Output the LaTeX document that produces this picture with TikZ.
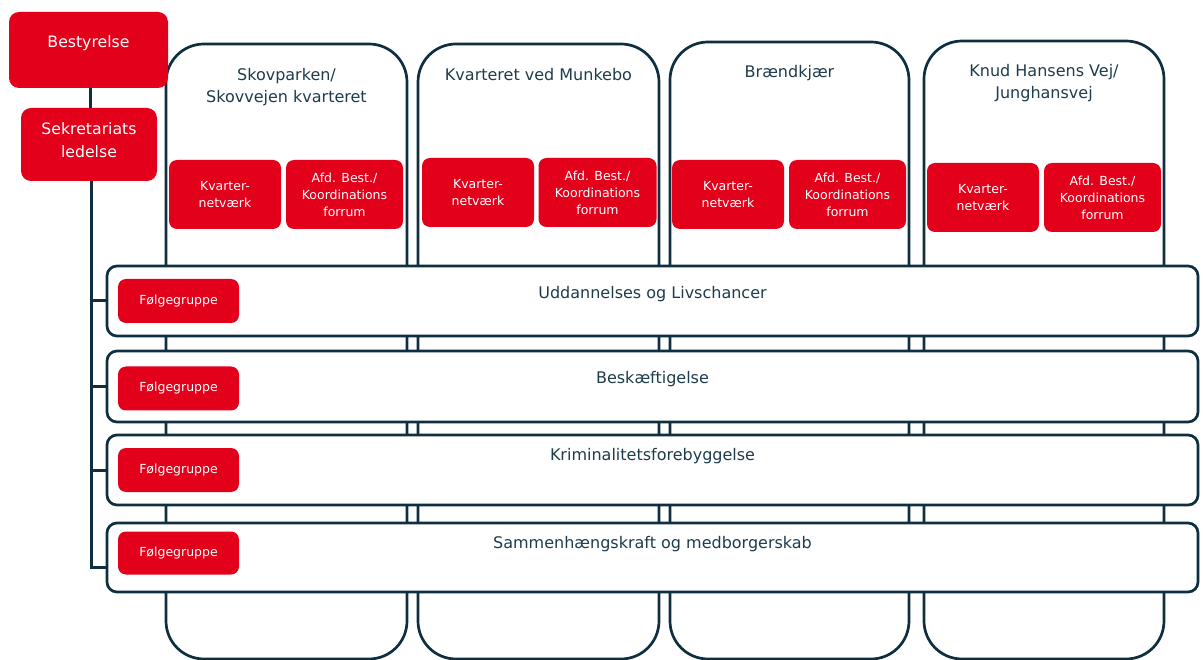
\documentclass[tikz,border=0pt]{standalone}
\usepackage{fontspec}
\setmainfont{DejaVu Sans}
\definecolor{redbox}{HTML}{E2001A}
\definecolor{navyline}{HTML}{0E2F3F}
\definecolor{titletext}{HTML}{1E3C4C}
\begin{document}
\begin{tikzpicture}[x=1pt,y=-1pt,
  redbox/.style={fill=redbox,draw=none,rounded corners=8pt,inner sep=0pt,text=white,align=center,font=\fontsize{12.5}{17}\selectfont},
  bigred/.style={redbox,rounded corners=10pt,font=\fontsize{15.7}{23.5}\selectfont},
  column/.style={draw=navyline,line width=2.7pt,fill=white,rounded corners=38pt,inner sep=0pt},
  rowbox/.style={draw=navyline,line width=2.7pt,fill=white,rounded corners=10pt,inner sep=0pt,minimum width=1091pt},
  coltitle/.style={text=titletext,align=center,anchor=north,inner sep=0pt,font=\fontsize{16}{22}\selectfont},
  rowtitle/.style={text=titletext,inner sep=0pt,font=\fontsize{16}{22}\selectfont},
  trunkline/.style={draw=navyline,line width=3pt}
]
\useasboundingbox (0,0) rectangle (1203,660);
% columns
\node[column,minimum width=241pt,minimum height=615pt] (c1) at (286.5,351.5) {};
\node[column,minimum width=241pt,minimum height=615pt] (c2) at (538.5,351.5) {};
\node[column,minimum width=239pt,minimum height=617pt] (c3) at (789.5,350.5) {};
\node[column,minimum width=240pt,minimum height=618pt] (c4) at (1044,350) {};
% column titles
\node[coltitle] (t1) at (286.5,68) {Skovparken/\\Skovvejen kvarteret};
\node[coltitle] (t2) at (538.5,68) {Kvarteret ved Munkebo};
\node[coltitle] (t3) at (789.5,65) {Brændkjær};
\node[coltitle] (t4) at (1044,64) {Knud Hansens Vej/\\Junghansvej};
% column red boxes
\node[redbox,minimum width=112pt,minimum height=69pt] (k1) at (225,194.5) {Kvarter-\\netværk};
\node[redbox,minimum width=117pt,minimum height=69pt] (a1) at (344.5,194.5) {Afd. Best./\\Koordinations\\forrum};
\node[redbox,minimum width=112pt,minimum height=69pt] (k2) at (478,192.5) {Kvarter-\\netværk};
\node[redbox,minimum width=118pt,minimum height=69pt] (a2) at (597.5,192.5) {Afd. Best./\\Koordinations\\forrum};
\node[redbox,minimum width=112pt,minimum height=69pt] (k3) at (728,194.5) {Kvarter-\\netværk};
\node[redbox,minimum width=117pt,minimum height=69pt] (a3) at (847.5,194.5) {Afd. Best./\\Koordinations\\forrum};
\node[redbox,minimum width=112pt,minimum height=69pt] (k4) at (983,197.5) {Kvarter-\\netværk};
\node[redbox,minimum width=117pt,minimum height=69pt] (a4) at (1102.5,197.5) {Afd. Best./\\Koordinations\\forrum};
% rows
\node[rowbox,minimum height=70pt] (r1) at (652.5,301) {};
\node[rowbox,minimum height=71pt] (r2) at (652.5,386.5) {};
\node[rowbox,minimum height=70pt] (r3) at (652.5,470) {};
\node[rowbox,minimum height=69pt] (r4) at (652.5,557.5) {};
\node[rowtitle] (l1) at (652.5,294) {Uddannelses og Livschancer};
\node[rowtitle] (l2) at (652.5,379) {Beskæftigelse};
\node[rowtitle] (l3) at (652.5,456) {Kriminalitetsforebyggelse};
\node[rowtitle] (l4) at (652.5,544) {Sammenhængskraft og medborgerskab};
\node[redbox,minimum width=121pt,minimum height=44pt] (f1) at (178.5,301) {Følgegruppe};
\node[redbox,minimum width=121pt,minimum height=44pt] (f2) at (178.5,388.5) {Følgegruppe};
\node[redbox,minimum width=121pt,minimum height=44pt] (f3) at (178.5,470) {Følgegruppe};
\node[redbox,minimum width=121pt,minimum height=43pt] (f4) at (178.5,553) {Følgegruppe};
% management
\node[bigred,minimum width=159pt,minimum height=76pt] (best) at (88.5,50) {};
\node[bigred,inner sep=0pt] (bestt) at (88.5,43) {Bestyrelse};
\node[bigred,minimum width=136pt,minimum height=73pt] (sek) at (89,144.5) {};
\node[bigred,inner sep=0pt] (sekt) at (89,140) {Sekretariats\\ledelse};
% connectors
\coordinate (trunk) at (91,567);
\draw[trunkline] (best.south -| 90,0) -- (sek.north -| 90,0);
\draw[trunkline] (sek.south -| trunk) -- (trunk) -- (trunk -| r4.west);
\draw[trunkline] (r1.west -| trunk) -- (r1.west);
\draw[trunkline] (r2.west -| trunk) -- (r2.west);
\draw[trunkline] (r3.west -| trunk) -- (r3.west);
\end{tikzpicture}
\end{document}
